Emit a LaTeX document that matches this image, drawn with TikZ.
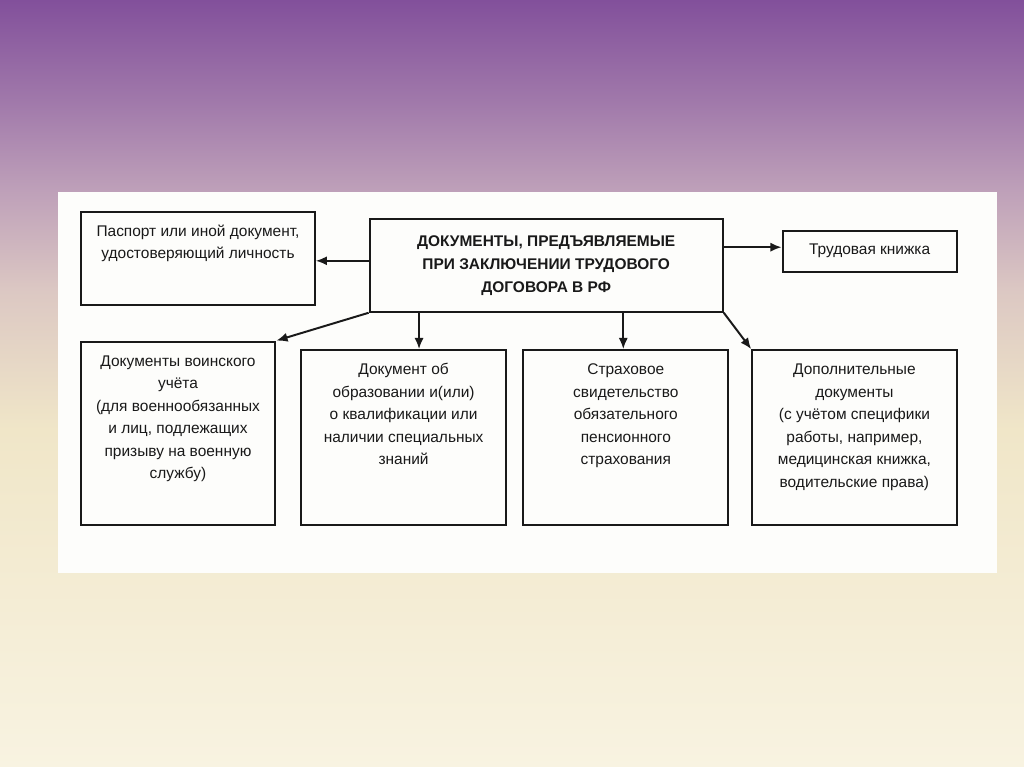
\documentclass[tikz,border=0pt]{standalone}
\usepackage{fontspec}
\setmainfont{Liberation Sans}
\usetikzlibrary{positioning, arrows.meta, calc}

\definecolor{bgtop}{RGB}{130,80,155}
\definecolor{bgupper}{RGB}{160,120,170}
\definecolor{bgmauve}{RGB}{190,160,185}
\definecolor{bgmid}{RGB}{220,200,195}
\definecolor{bglow}{RGB}{240,230,200}
\definecolor{bgbot}{RGB}{248,243,225}
\definecolor{panel}{RGB}{253,253,251}
\definecolor{ink}{RGB}{25,25,25}

\pgfdeclareverticalshading{slidebg}{100bp}{color(0bp)=(bgbot); color(25bp)=(bgbot);
  color(47bp)=(bglow); color(56bp)=(bgmid); color(62.6bp)=(bgmauve);
  color(68.5bp)=(bgupper); color(75bp)=(bgtop); color(100bp)=(bgtop)}

% text set at the top of a fixed-size box
\newcommand{\toptext}[3]{\parbox[c][#2][t]{#1}{\centering\vspace*{0.22cm}\strut#3}}

\begin{document}
\begin{tikzpicture}[
  every node/.style={font=\fontsize{11}{16}\selectfont, text=ink},
  >=Latex,
  box/.style   ={draw=ink, line width=1.4pt, fill=panel, inner sep=0pt},
  title/.style ={draw=ink, line width=1.4pt, fill=panel, align=center,
                 font=\fontsize{11}{16.3}\selectfont\bfseries},
  arr/.style   ={-{Latex[length=2.8mm, width=2.3mm]}, line width=1.4pt, draw=ink},
]

%% ---- slide background ----
\useasboundingbox (0,0) rectangle (25.6,-19.175);
\shade[shading=slidebg] (0,0) rectangle (25.6,-19.175);
\fill[panel] (1.45,-4.8) rectangle (24.925,-14.325);

%% ---- y layout (all in cm) ----
%% -6.5   top row: Pass / Doc / Trud
%% -10.9  bottom row: Mil / Educ / Ins / Add

%% ---- top row ----
\node[title, minimum width=8.83cm, minimum height=2.31cm] (doc) at (13.655,-6.64)
  {ДОКУМЕНТЫ, ПРЕДЪЯВЛЯЕМЫЕ\\ПРИ ЗАКЛЮЧЕНИИ ТРУДОВОГО\\ДОГОВОРА В РФ};

\node[box] (pass) at (4.95,-6.46)
  {\toptext{5.84cm}{2.33cm}{Паспорт или иной документ,\\удостоверяющий личность}};

\node[box, minimum width=4.35cm, minimum height=1.03cm] (trud) at (21.74,-6.28)
  {Трудовая книжка};

\draw[arr] ([yshift=1.2mm]doc.west) -- ([yshift=1.2mm]doc.west -| pass.east);
\draw[arr] ([yshift=1mm]doc.east |- trud.west) -- ([yshift=1mm]trud.west);

%% ---- bottom row ----
\node[box] (mil) at (4.45,-10.83)
  {\toptext{4.87cm}{4.58cm}{Документы воинского\\учёта\\(для военнообязанных\\
   и лиц, подлежащих\\призыву на военную\\службу)}};
\node[box] (educ) at (10.09,-10.94)
  {\toptext{5.13cm}{4.375cm}{Документ об\\образовании и(или)\\о квалификации или\\
   наличии специальных\\знаний}};
\node[box] (ins) at (15.645,-10.94)
  {\toptext{5.125cm}{4.375cm}{Страховое\\свидетельство\\обязательного\\
   пенсионного\\страхования}};
\node[box] (add) at (21.36,-10.94)
  {\toptext{5.11cm}{4.375cm}{Дополнительные\\документы\\(с учётом специфики\\
   работы, например,\\медицинская книжка,\\водительские права)}};

%% arrows down from the title
\coordinate (d1) at ($(doc.south west)!0.142!(doc.south east)$);
\coordinate (d2) at ($(doc.south west)!0.717!(doc.south east)$);
\draw[arr] (doc.south west) -- (mil.north east);
\draw[arr] (d1) -- (d1 |- educ.north);
\draw[arr] (d2) -- (d2 |- ins.north);
\draw[arr] (doc.south east) -- (add.north west);

\end{tikzpicture}
\end{document}
